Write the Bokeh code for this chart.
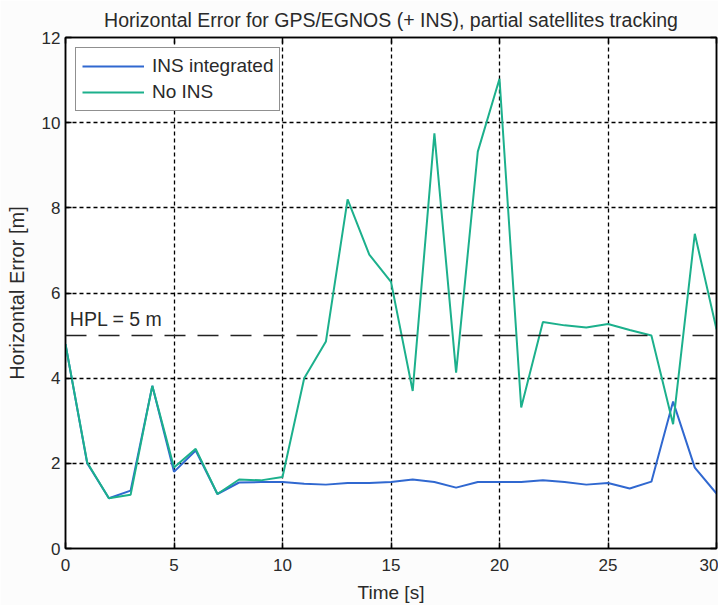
from bokeh.plotting import figure
from bokeh.models import FixedTicker, LinearAxis, Range1d, Span, Label, Legend, LegendItem
from bokeh.embed import file_html
from bokeh.resources import INLINE

time_s = list(range(0, 31))
ins_integrated = [4.8, 2.0, 1.18, 1.36, 3.82, 1.8, 2.3, 1.28, 1.55, 1.56, 1.56,
                  1.52, 1.5, 1.54, 1.54, 1.56, 1.62, 1.56, 1.43, 1.56, 1.56,
                  1.56, 1.6, 1.56, 1.5, 1.54, 1.41, 1.57, 3.45, 1.9, 1.29]
no_ins = [4.8, 2.02, 1.18, 1.26, 3.82, 1.9, 2.34, 1.28, 1.62, 1.6, 1.68,
          4.0, 4.86, 8.2, 6.9, 6.26, 3.7, 9.75, 4.13, 9.32, 11.03,
          3.31, 5.32, 5.24, 5.19, 5.27, 5.13, 5.0, 2.92, 7.39, 5.15]
hpl = 5.0
x_ticks = [0, 5, 10, 15, 20, 25, 30]
y_ticks = [0, 2, 4, 6, 8, 10, 12]
title_text = "Horizontal Error for GPS/EGNOS (+ INS), partial satellites tracking"

FONT = "Liberation Sans"
TXT = "#2a2a2a"

p = figure(frame_width=651, frame_height=511, output_backend="svg", toolbar_location=None,
           x_range=Range1d(0, 30), y_range=Range1d(0, 12),
           min_border_left=65, min_border_right=2, min_border_top=37, min_border_bottom=0,
           title=title_text)
p.background_fill_color = "white"
p.border_fill_color = "#fcfcfc"
p.outline_line_color = "black"
p.outline_line_width = 1.5

p.title.align = "center"
p.title.text_font = FONT
p.title.text_font_size = "19.5px"
p.title.text_font_style = "normal"
p.title.text_color = TXT
p.title.standoff = 13

for ax, ticks in ((p.xaxis[0], x_ticks), (p.yaxis[0], y_ticks)):
    ax.ticker = FixedTicker(ticks=ticks)
    ax.major_tick_in = 6
    ax.major_tick_out = 0
    ax.minor_tick_line_color = None
    ax.axis_line_width = 1.5
    ax.major_tick_line_width = 1.5
    ax.major_label_text_font = FONT
    ax.major_label_text_font_size = "17px"
    ax.major_label_text_color = TXT
    ax.axis_label_text_font = FONT
    ax.axis_label_text_font_style = "normal"
    ax.axis_label_text_color = TXT
p.xaxis.axis_label = "Time [s]"
p.yaxis.axis_label = "Horizontal Error [m]"
p.xaxis.axis_label_text_font_size = "19px"
p.yaxis.axis_label_text_font_size = "20px"
p.xaxis.major_label_standoff = 10
p.yaxis.major_label_standoff = 5
p.xaxis.axis_label_standoff = 8
p.yaxis.axis_label_standoff = 11

top = LinearAxis(ticker=FixedTicker(ticks=x_ticks), major_tick_in=6, major_tick_out=0,
                 minor_tick_line_color=None, major_label_text_font_size="1px",
                 major_label_text_color=None, major_label_standoff=0,
                 axis_line_width=1.5, major_tick_line_width=1.5)
right = LinearAxis(ticker=FixedTicker(ticks=y_ticks), major_tick_in=6, major_tick_out=0,
                   minor_tick_line_color=None, major_label_text_font_size="1px",
                   major_label_text_color=None, major_label_standoff=0,
                   axis_line_width=1.5, major_tick_line_width=1.5)
p.add_layout(top, "above")
p.add_layout(right, "right")

p.xgrid.ticker = FixedTicker(ticks=x_ticks)
p.ygrid.ticker = FixedTicker(ticks=y_ticks)
for g in (p.xgrid[0], p.ygrid[0]):
    g.grid_line_color = "black"
    g.grid_line_dash = "4 3"
    g.grid_line_width = 1.3

hpl_line = Span(location=hpl, dimension="width", line_color="#222222",
                line_dash="21 12", line_width=1.5)
p.add_layout(hpl_line)
p.add_layout(Label(x=0.2, y=hpl, y_offset=6, text="HPL = 5 m", text_font=FONT,
                   text_font_size="19.5px", text_color=TXT))

r1 = p.line(time_s, ins_integrated, line_color="#3068d0", line_width=2)
r2 = p.line(time_s, no_ins, line_color="#1cb08c", line_width=2)

legend = Legend(items=[LegendItem(label="INS integrated", renderers=[r1]),
                       LegendItem(label="No INS", renderers=[r2])],
                location="top_left")
legend.label_text_font = FONT
legend.label_text_font_size = "19px"
legend.label_text_color = TXT
legend.label_height = 24
legend.glyph_height = 24
legend.border_line_color = "#222222"
legend.border_line_width = 1.5
legend.glyph_width = 62
legend.label_standoff = 8
legend.spacing = 2
legend.padding = 6
legend.margin = 10
legend.background_fill_color = "white"
legend.background_fill_alpha = 1
p.add_layout(legend)

open("out.html", "w").write(file_html(p, INLINE))
